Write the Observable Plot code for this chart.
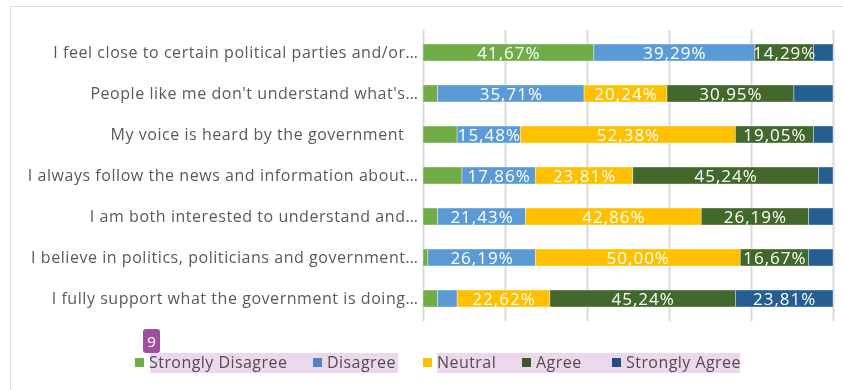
<!DOCTYPE html>
<html>
<head>
<meta charset="utf-8">
<script src="https://cdn.jsdelivr.net/npm/d3@7"></script>
<script src="https://cdn.jsdelivr.net/npm/@observablehq/plot@0.6"></script>
<style>
  html, body { margin: 0; padding: 0; background: #fff; }
  #wrap { position: relative; width: 843px; height: 390px; overflow: hidden; font-family: "Open Sans", sans-serif; }
  #frame { position: absolute; left: 10px; top: 6px; width: 840px; height: 400px; border-top: 1.5px solid #dedede; border-left: 1.5px solid #dedede; box-sizing: border-box; }
  #chart { position: absolute; left: 0; top: 0; }
  #chart g[aria-label="y-axis tick label"] text { letter-spacing: 0.55px; }
  #chart g[aria-label="text"] text { letter-spacing: 1px; }
  .leg { position: absolute; top: 352px; height: 20px; display: flex; align-items: center; font-size: 16px; letter-spacing: 0.45px; color: #595959; white-space: nowrap; }
  .sw { width: 9px; height: 9px; margin-right: 5px; }
  .hl { position: absolute; top: 353px; height: 20px; background: #ebd8ec; mix-blend-mode: multiply; }
  #badge { position: absolute; left: 143px; top: 329px; width: 17px; height: 24px; background: #9e4f9f; border-radius: 3px; color: #fff; font-size: 15px; display: flex; align-items: center; justify-content: center; }
</style>
</head>
<body>
<div id="wrap">
  <div id="frame"></div>
  <div id="chart"></div>
</div>
<script>
const categories = [
  "I feel close to certain political parties and/or…",
  "People like me don't understand what's…",
  "My voice is heard by the government\u00a0\u00a0\u00a0",
  "I always follow the news and information about…",
  "I am both interested to understand and…",
  "I believe in politics, politicians and government…",
  "I fully support what the government is doing…"
];
const responses = ["Strongly Disagree", "Disagree", "Neutral", "Agree", "Strongly Agree"];
const colors = ["#70AD47", "#5B9BD5", "#FFC000", "#43682B", "#255E91"];

const stronglyDisagree = [41.67, 3.57, 8.33, 9.52, 3.57, 1.19, 3.57];
const disagree         = [39.29, 35.71, 15.48, 17.86, 21.43, 26.19, 4.76];
const neutral          = [0.00, 20.24, 52.38, 23.81, 42.86, 50.00, 22.62];
const agree            = [14.29, 30.95, 19.05, 45.24, 26.19, 16.67, 45.24];
const stronglyAgree    = [4.76, 9.52, 4.76, 3.57, 5.95, 5.95, 23.81];
const xTicks = [0, 20, 40, 60, 80, 100];

const series = [stronglyDisagree, disagree, neutral, agree, stronglyAgree];
const data = categories.flatMap((c, i) =>
  responses.map((r, j) => ({category: c, response: r, value: series[j][i]}))
);
const fmt = v => v.toFixed(2).replace(".", ",") + "%";

const chart = Plot.plot({
  width: 843,
  height: 335,
  marginLeft: 423,
  marginRight: 10,
  marginTop: 30,
  marginBottom: 14,
  x: {domain: [0, 100], axis: null},
  y: {domain: categories, paddingInner: 0.59, paddingOuter: 0.295, label: null, axis: null},
  color: {domain: responses, range: colors},
  style: {fontFamily: "'Open Sans', sans-serif", fontSize: "16px", color: "#595959", background: "transparent", overflow: "visible"},
  marks: [
    Plot.ruleX(xTicks, {stroke: "#d9d9d9", strokeWidth: 2}),
    Plot.barX(data, {x: "value", y: "category", fill: "response", order: responses, stroke: "#ffffff", strokeWidth: 0.6, strokeOpacity: 0.6}),
    Plot.text(data, Plot.stackX({
      x: "value", y: "category", z: "response", order: responses,
      text: d => d.value >= 10 ? fmt(d.value) : null,
      fill: "white", fontSize: 17, dy: 1
    })),
    Plot.axisY({tickSize: 0, tickPadding: 5, fontSize: 16, fill: "#595959", label: null})
  ]
});
document.getElementById("chart").appendChild(chart);

// legend (built from the same arrays)
const wrap = document.getElementById("wrap");
const legendX = [135, 313, 423, 522, 612];
responses.forEach((r, i) => {
  const item = document.createElement("div");
  item.className = "leg";
  item.style.left = legendX[i] + "px";
  const sw = document.createElement("div");
  sw.className = "sw";
  sw.style.background = colors[i];
  const t = document.createElement("span");
  t.textContent = r;
  item.appendChild(sw);
  item.appendChild(t);
  wrap.appendChild(item);
});
[[150, 248], [437, 303]].forEach(([l, w]) => {
  const h = document.createElement("div");
  h.className = "hl";
  h.style.left = l + "px";
  h.style.width = w + "px";
  wrap.appendChild(h);
});
const badge = document.createElement("div");
badge.id = "badge";
badge.textContent = "9";
wrap.appendChild(badge);
</script>
</body>
</html>
